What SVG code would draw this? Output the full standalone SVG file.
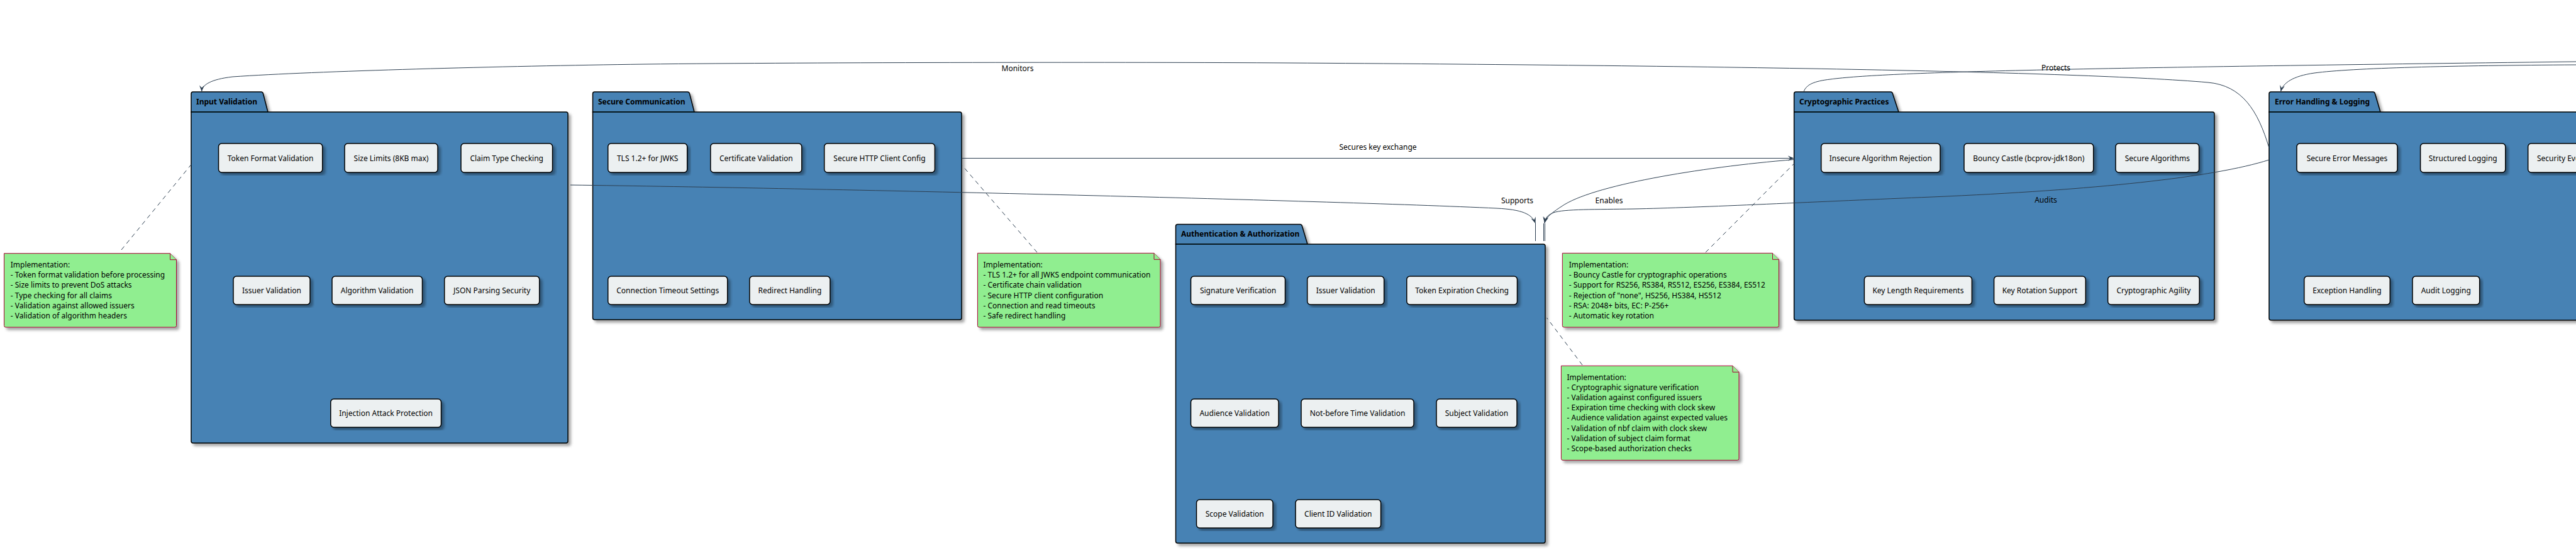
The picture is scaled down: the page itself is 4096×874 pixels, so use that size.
<svg xmlns="http://www.w3.org/2000/svg" width="4096" height="874" viewBox="0 0 4096 874">
<style>
  .pkg{fill:#4682B4;stroke:#000;stroke-width:1.5}
  .box{fill:#ECF0F1;stroke:#000;stroke-width:1.5}
  .note{fill:#90EE90;stroke:#A80036;stroke-width:1}
  .t{font-family:"Noto Sans","DejaVu Sans",sans-serif;font-size:12px;fill:#000}
  .bt{font-family:"Noto Sans","DejaVu Sans",sans-serif;font-size:12px;fill:#000;text-anchor:middle}
  .ttl{font-family:"Noto Sans","DejaVu Sans",sans-serif;font-size:12px;font-weight:bold;fill:#000}
  .lbl{font-family:"Noto Sans","DejaVu Sans",sans-serif;font-size:12px;fill:#000;text-anchor:middle}
  .edge{fill:none;stroke:#2C3E50;stroke-width:1}
  .dash{fill:none;stroke:#2C3E50;stroke-width:1;stroke-dasharray:7,6}
</style>
<defs>
  <filter id="sh" x="-5%" y="-5%" width="110%" height="115%">
    <feDropShadow dx="4" dy="4" stdDeviation="2" flood-color="#000" flood-opacity="0.35"/>
  </filter>
  <marker id="arr" markerWidth="12" markerHeight="10" refX="10" refY="5" orient="auto" markerUnits="userSpaceOnUse">
    <path d="M0,1 L10,5 L0,9 L4,5 Z" fill="#2C3E50"/>
  </marker>
</defs>
<rect width="4096" height="874" fill="#fff"/>

<!-- Packages -->
<g id="pkg-input">
  <g filter="url(#sh)">
    <path class="pkg" d="M304,178 L304,149 Q304,146 307,146 L415,146 Q418,146 418.5,149 L426,178 Z"/>
    <path class="pkg" d="M304,178 L900,178 Q903,178 903,181 L903,701 Q903,704 900,704 L307,704 Q304,704 304,701 Z"/>
  </g>
  <text class="ttl" x="312" y="165.5">Input Validation</text>
</g>
<g id="pkg-securecomm">
  <g filter="url(#sh)">
    <path class="pkg" d="M942.5,178 L942.5,149 Q942.5,146 945.5,146 L1093,146 Q1096,146 1096.5,149 L1104,178 Z"/>
    <path class="pkg" d="M942.5,178 L1526,178 Q1529,178 1529,181 L1529,505 Q1529,508 1526,508 L945.5,508 Q942.5,508 942.5,505 Z"/>
  </g>
  <text class="ttl" x="951" y="165.5">Secure Communication</text>
</g>
<g id="pkg-auth">
  <g filter="url(#sh)">
    <path class="pkg" d="M1869.5,388 L1869.5,359.5 Q1869.5,356.5 1872.5,356.5 L2067,356.5 Q2070,356.5 2070.5,359.5 L2079,388 Z"/>
    <path class="pkg" d="M1869.5,388 L2454,388 Q2457,388 2457,391 L2457,860 Q2457,863 2454,863 L1872.5,863 Q1869.5,863 1869.5,860 Z"/>
  </g>
  <text class="ttl" x="1878" y="376">Authentication &amp; Authorization</text>
</g>
<g id="pkg-crypto">
  <g filter="url(#sh)">
    <path class="pkg" d="M2852.7,178 L2852.7,149 Q2852.7,146 2855.7,146 L3006,146 Q3009,146 3009.5,149 L3019,178 Z"/>
    <path class="pkg" d="M2852.7,178 L3518,178 Q3521,178 3521,181 L3521,505.7 Q3521,508.7 3518,508.7 L2855.7,508.7 Q2852.7,508.7 2852.7,505.7 Z"/>
  </g>
  <text class="ttl" x="2861" y="165.5">Cryptographic Practices</text>
</g>
<g id="pkg-error">
  <g filter="url(#sh)">
    <path class="pkg" d="M3608,178 L3608,149 Q3608,146 3611,146 L3773,146 Q3776,146 3776.5,149 L3785,178 Z"/>
    <path class="pkg" d="M3608,178 L4200,178 L4200,508.7 L3611,508.7 Q3608,508.7 3608,505.7 Z"/>
  </g>
  <text class="ttl" x="3617" y="165.5">Error Handling &amp; Logging</text>
</g>

<!-- Components: Input Validation -->
<g id="token-format"><rect class="box" filter="url(#sh)" x="347.5" y="228" width="165.2" height="46" rx="5"/><text class="bt" x="430.1" y="255.5">Token Format Validation</text></g>
<g id="size-limits"><rect class="box" filter="url(#sh)" x="548" y="228" width="148" height="46" rx="5"/><text class="bt" x="622" y="255.5">Size Limits (8KB max)</text></g>
<g id="claim-type"><rect class="box" filter="url(#sh)" x="733" y="228" width="145.5" height="46" rx="5"/><text class="bt" x="805.7" y="255.5">Claim Type Checking</text></g>
<g id="issuer-val-1"><rect class="box" filter="url(#sh)" x="371" y="439" width="122" height="45" rx="5"/><text class="bt" x="432" y="466">Issuer Validation</text></g>
<g id="algorithm-val"><rect class="box" filter="url(#sh)" x="528" y="439" width="143.5" height="45" rx="5"/><text class="bt" x="599.7" y="466">Algorithm Validation</text></g>
<g id="json-parsing"><rect class="box" filter="url(#sh)" x="706.7" y="439" width="151" height="45" rx="5"/><text class="bt" x="782.2" y="466">JSON Parsing Security</text></g>
<g id="injection"><rect class="box" filter="url(#sh)" x="525.8" y="634" width="175.7" height="45" rx="5"/><text class="bt" x="613.6" y="661">Injection Attack Protection</text></g>

<!-- Components: Secure Communication -->
<g id="tls"><rect class="box" filter="url(#sh)" x="966.7" y="228" width="126" height="46" rx="5"/><text class="bt" x="1029.7" y="255.5">TLS 1.2+ for JWKS</text></g>
<g id="cert-val"><rect class="box" filter="url(#sh)" x="1129.8" y="228" width="145" height="46" rx="5"/><text class="bt" x="1202.3" y="255.5">Certificate Validation</text></g>
<g id="http-config"><rect class="box" filter="url(#sh)" x="1310.7" y="228" width="175.7" height="46" rx="5"/><text class="bt" x="1398.5" y="255.5">Secure HTTP Client Config</text></g>
<g id="conn-timeout"><rect class="box" filter="url(#sh)" x="966.7" y="439" width="190" height="45" rx="5"/><text class="bt" x="1061.7" y="466">Connection Timeout Settings</text></g>
<g id="redirect"><rect class="box" filter="url(#sh)" x="1191.9" y="439" width="128" height="45" rx="5"/><text class="bt" x="1255.9" y="466">Redirect Handling</text></g>

<!-- Components: Authentication & Authorization -->
<g id="sig-verif"><rect class="box" filter="url(#sh)" x="1893.5" y="439" width="150" height="45" rx="5"/><text class="bt" x="1968.5" y="466">Signature Verification</text></g>
<g id="issuer-val-2"><rect class="box" filter="url(#sh)" x="2078.7" y="439" width="122" height="45" rx="5"/><text class="bt" x="2139.7" y="466">Issuer Validation</text></g>
<g id="token-exp"><rect class="box" filter="url(#sh)" x="2236.8" y="439" width="175.7" height="45" rx="5"/><text class="bt" x="2324.6" y="466">Token Expiration Checking</text></g>
<g id="audience"><rect class="box" filter="url(#sh)" x="1893.5" y="634" width="139.5" height="45" rx="5"/><text class="bt" x="1963.2" y="661">Audience Validation</text></g>
<g id="not-before"><rect class="box" filter="url(#sh)" x="2069" y="634" width="179" height="45" rx="5"/><text class="bt" x="2158.5" y="661">Not-before Time Validation</text></g>
<g id="subject"><rect class="box" filter="url(#sh)" x="2284" y="634" width="128" height="45" rx="5"/><text class="bt" x="2348" y="661">Subject Validation</text></g>
<g id="scope"><rect class="box" filter="url(#sh)" x="1902.5" y="794" width="121.5" height="45" rx="5"/><text class="bt" x="1963.2" y="821">Scope Validation</text></g>
<g id="client-id"><rect class="box" filter="url(#sh)" x="2060" y="794" width="135.6" height="45" rx="5"/><text class="bt" x="2127.8" y="821">Client ID Validation</text></g>

<!-- Components: Cryptographic Practices -->
<g id="insecure-alg"><rect class="box" filter="url(#sh)" x="2895.8" y="228" width="189.2" height="46" rx="5"/><text class="bt" x="2990.4" y="255.5">Insecure Algorithm Rejection</text></g>
<g id="bouncy"><rect class="box" filter="url(#sh)" x="3123" y="228" width="205.7" height="46" rx="5"/><text class="bt" x="3225.8" y="255.5">Bouncy Castle (bcprov-jdk18on)</text></g>
<g id="secure-alg"><rect class="box" filter="url(#sh)" x="3364" y="228" width="132.6" height="46" rx="5"/><text class="bt" x="3430.3" y="255.5">Secure Algorithms</text></g>
<g id="key-length"><rect class="box" filter="url(#sh)" x="2964.4" y="439" width="171" height="45" rx="5"/><text class="bt" x="3049.9" y="466">Key Length Requirements</text></g>
<g id="key-rotation"><rect class="box" filter="url(#sh)" x="3170.6" y="439" width="145.7" height="45" rx="5"/><text class="bt" x="3243.4" y="466">Key Rotation Support</text></g>
<g id="crypto-agility"><rect class="box" filter="url(#sh)" x="3351.6" y="439" width="145.6" height="45" rx="5"/><text class="bt" x="3424.4" y="466">Cryptographic Agility</text></g>

<!-- Components: Error Handling & Logging -->
<g id="secure-err"><rect class="box" filter="url(#sh)" x="3652" y="228" width="160" height="46" rx="5"/><text class="bt" x="3732" y="255.5">Secure Error Messages</text></g>
<g id="structured-log"><rect class="box" filter="url(#sh)" x="3848.6" y="228" width="135.2" height="46" rx="5"/><text class="bt" x="3916.2" y="255.5">Structured Logging</text></g>
<g id="security-event"><rect class="box" filter="url(#sh)" x="4019.7" y="228" width="170" height="46" rx="5"/><text class="t" x="4034" y="255.5">Security Event Logging</text></g>
<g id="exception"><rect class="box" filter="url(#sh)" x="3663.8" y="439" width="136.5" height="45" rx="5"/><text class="bt" x="3732" y="466">Exception Handling</text></g>
<g id="audit-log"><rect class="box" filter="url(#sh)" x="3836" y="439" width="106.7" height="45" rx="5"/><text class="bt" x="3889.3" y="466">Audit Logging</text></g>

<!-- Notes -->
<g id="note-input">
  <path class="note" filter="url(#sh)" d="M6.5,402.7 L270.5,402.7 L280.5,412.7 L280.5,517.5 Q280.5,520 278,520 L9,520 Q6.5,520 6.5,517.5 Z"/>
  <path class="note" d="M270.5,402.7 L270.5,412.7 L280.5,412.7"/>
  <text class="t"><tspan x="16.8" y="425">Implementation:</tspan><tspan x="16.8" y="441.2">- Token format validation before processing</tspan><tspan x="16.8" y="457.4">- Size limits to prevent DoS attacks</tspan><tspan x="16.8" y="473.6">- Type checking for all claims</tspan><tspan x="16.8" y="489.8">- Validation against allowed issuers</tspan><tspan x="16.8" y="506">- Validation of algorithm headers</tspan></text>
</g>
<g id="note-securecomm">
  <path class="note" filter="url(#sh)" d="M1554.4,402.3 L1835,402.3 L1845,412.3 L1845,517.5 Q1845,520 1842.5,520 L1557,520 Q1554.4,520 1554.4,517.5 Z"/>
  <path class="note" d="M1835,402.3 L1835,412.3 L1845,412.3"/>
  <text class="t"><tspan x="1563.5" y="425">Implementation:</tspan><tspan x="1563.5" y="441.2">- TLS 1.2+ for all JWKS endpoint communication</tspan><tspan x="1563.5" y="457.4">- Certificate chain validation</tspan><tspan x="1563.5" y="473.6">- Secure HTTP client configuration</tspan><tspan x="1563.5" y="489.8">- Connection and read timeouts</tspan><tspan x="1563.5" y="506">- Safe redirect handling</tspan></text>
</g>
<g id="note-crypto">
  <path class="note" filter="url(#sh)" d="M2484.3,402.3 L2818.5,402.3 L2828.5,412.3 L2828.5,517.5 Q2828.5,520 2826,520 L2487,520 Q2484.3,520 2484.3,517.5 Z"/>
  <path class="note" d="M2818.5,402.3 L2818.5,412.3 L2828.5,412.3"/>
  <text class="t"><tspan x="2494.8" y="425">Implementation:</tspan><tspan x="2494.8" y="441.2">- Bouncy Castle for cryptographic operations</tspan><tspan x="2494.8" y="457.4">- Support for RS256, RS384, RS512, ES256, ES384, ES512</tspan><tspan x="2494.8" y="473.6">- Rejection of "none", HS256, HS384, HS512</tspan><tspan x="2494.8" y="489.8">- RSA: 2048+ bits, EC: P-256+</tspan><tspan x="2494.8" y="506">- Automatic key rotation</tspan></text>
</g>
<g id="note-auth">
  <path class="note" filter="url(#sh)" d="M2482.4,581.3 L2755,581.3 L2765,591.3 L2765,728.8 Q2765,731.3 2762.5,731.3 L2485,731.3 Q2482.4,731.3 2482.4,728.8 Z"/>
  <path class="note" d="M2755,581.3 L2755,591.3 L2765,591.3"/>
  <text class="t"><tspan x="2491.5" y="603.6">Implementation:</tspan><tspan x="2491.5" y="619.8">- Cryptographic signature verification</tspan><tspan x="2491.5" y="636">- Validation against configured issuers</tspan><tspan x="2491.5" y="652.2">- Expiration time checking with clock skew</tspan><tspan x="2491.5" y="668.4">- Audience validation against expected values</tspan><tspan x="2491.5" y="684.6">- Validation of nbf claim with clock skew</tspan><tspan x="2491.5" y="700.8">- Validation of subject claim format</tspan><tspan x="2491.5" y="717">- Scope-based authorization checks</tspan></text>
</g>

<!-- Connectors -->
<g id="connectors">
  <path class="dash" d="M193,397 L304.4,261"/>
  <path class="dash" d="M1649,401 L1530,263"/>
  <path class="dash" d="M2516,580 L2459.5,505"/>
  <path class="dash" d="M2712,401 L2852.7,260"/>

  <path class="edge" marker-end="url(#arr)" d="M3608,235 C3590,175 3565,136 3511,131 C3300,113 2700,104 2048,100 C1800,98.5 1300,99 1024,102 C800,105 500,113 370,122 C335,126 321,135 320.7,145.5"/>
  <text class="lbl" x="1618" y="112.5">Monitors</text>

  <path class="edge" d="M2868,146 C2872,134 2885,129 2910,126 C3000,114 3300,108 4096,98"/>
  <text class="lbl" x="3269" y="111.7">Protects</text>

  <path class="edge" marker-end="url(#arr)" d="M4096,103 C3900,104 3740,108 3680,116 C3645,121 3630,132 3626.5,145.5"/>

  <path class="edge" marker-end="url(#arr)" d="M1530,251.5 L2852.7,251.5"/>
  <text class="lbl" x="2191" y="238.3">Secures key exchange</text>

  <path class="edge" marker-end="url(#arr)" d="M907,294 C1300,299 2100,318 2380,331 C2420,333 2436,340 2441.5,355"/>
  <text class="lbl" x="2412.5" y="322.7">Supports</text>

  <path class="edge" marker-end="url(#arr)" d="M2852.7,253.5 C2700,266 2530,295 2483,328 C2466,339 2458,346 2456,354.5"/>
  <text class="lbl" x="2558.5" y="322.7">Enables</text>

  <path class="edge" marker-end="url(#arr)" d="M3608,254 C3520,282 3330,302 3072,313 C2900,320 2700,330 2597,332 C2540,333 2485,332 2470,338 C2460,342 2457,347 2456,354.5"/>
  <text class="lbl" x="3253" y="321.7">Audits</text>

  <path class="edge" d="M2441.5,355 V383 M2454.5,355 V383 M2456.5,355 V383"/>
</g>
</svg>
